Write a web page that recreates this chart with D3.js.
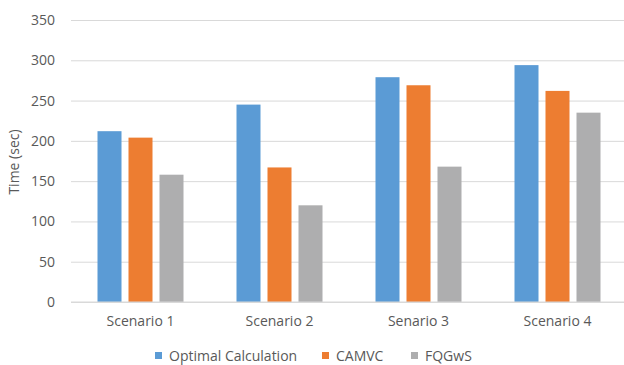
<!DOCTYPE html>
<html>
<head>
<meta charset="utf-8">
<script src="https://cdn.jsdelivr.net/npm/d3@7"></script>
<style>
  html, body { margin: 0; padding: 0; background: #fff; }
  svg { display: block; font-family: "Open Sans", sans-serif; }
</style>
</head>
<body>
<svg id="chart" width="624" height="365"></svg>
<script>
// Scenario labels along the x axis
const categories = ["Scenario 1", "Scenario 2", "Senario 3", "Scenario 4"];
// Series names as shown in the legend
const seriesNames = ["Optimal Calculation", "CAMVC", "FQGwS"];
// Time in seconds for each series, one value per scenario
const optimalValues = [212, 245, 279, 294];
const camvcValues = [204, 167, 269, 262];
const fqgwsValues = [158, 120, 168, 235];
// Y axis ticks
const yTicks = [0, 50, 100, 150, 200, 250, 300, 350];

const seriesValues = [optimalValues, camvcValues, fqgwsValues];
const colors = ["#5B9BD5", "#ED7D31", "#AEAEAF"];
const textColor = "#595959";
const fontSize = 14;

const svg = d3.select("#chart");
const W = 624, H = 365;

const y = d3.scaleLinear().domain([0, 350]).range([302, 20]);

const x0 = d3.scaleBand()
  .domain(categories)
  .range([71, 627])
  .paddingInner(53 / 139)
  .paddingOuter(53 / 139 / 2);

const x1 = d3.scaleBand()
  .domain(seriesNames)
  .range([0, x0.bandwidth()])
  .paddingInner(7 / 31)
  .paddingOuter(0);

// Horizontal gridlines
const yAxis = d3.axisLeft(y).tickValues(yTicks).tickSize(-(W - 71)).tickPadding(16);
const gy = svg.append("g").attr("transform", "translate(71,0)").call(yAxis);
gy.select(".domain").remove();
gy.selectAll(".tick line").attr("stroke", "#D9D9D9").attr("stroke-width", 1);
gy.selectAll(".tick text")
  .attr("fill", textColor)
  .attr("font-size", fontSize)
  .attr("font-family", "Open Sans, sans-serif");

// Bars
const rows = categories.map((c, i) => ({ cat: c, vals: seriesNames.map((s, j) => ({ s, j, v: seriesValues[j][i] })) }));
const groups = svg.append("g").selectAll("g").data(rows).join("g")
  .attr("transform", d => `translate(${x0(d.cat)},0)`);
groups.selectAll("rect").data(d => d.vals).join("rect")
  .attr("x", d => x1(d.s))
  .attr("width", x1.bandwidth())
  .attr("y", d => y(d.v))
  .attr("height", d => y(0) - y(d.v))
  .attr("fill", d => colors[d.j]);

// Category axis
const xAxis = d3.axisBottom(x0).tickSize(0).tickPadding(14);
const gx = svg.append("g").attr("transform", `translate(0,${y(0)})`).call(xAxis);
gx.select(".domain").remove();
gx.selectAll(".tick text")
  .attr("fill", textColor)
  .attr("font-size", fontSize)
  .attr("font-family", "Open Sans, sans-serif");
svg.append("line")
  .attr("x1", 71).attr("x2", W)
  .attr("y1", y(0)).attr("y2", y(0))
  .attr("stroke", "#D9D9D9");

// Y axis title
svg.append("text")
  .attr("transform", `translate(19,${162}) rotate(-90)`)
  .attr("text-anchor", "middle")
  .attr("fill", textColor)
  .attr("font-size", fontSize)
  .text("Time (sec)");

// Legend
const legendX = [155, 322, 411];
const legend = svg.append("g").selectAll("g").data(seriesNames).join("g")
  .attr("transform", (d, i) => `translate(${legendX[i]},352)`);
legend.append("rect").attr("width", 7).attr("height", 7).attr("fill", (d, i) => colors[i]);
legend.append("text")
  .attr("x", 14).attr("y", 8.5)
  .attr("fill", textColor)
  .attr("font-size", fontSize)
  .text(d => d);
</script>
</body>
</html>
